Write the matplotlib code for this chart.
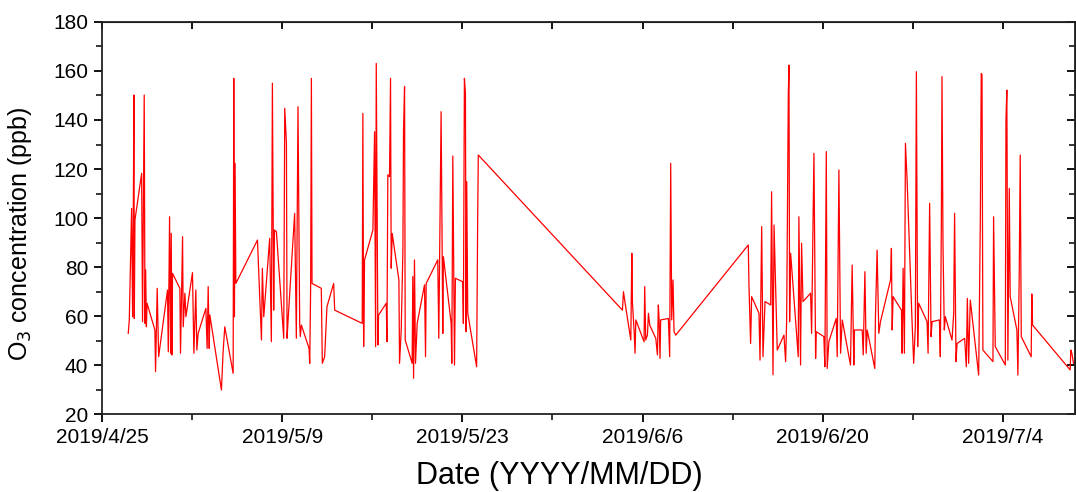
import numpy as np
import pandas as pd
import matplotlib
matplotlib.use('Agg')
import matplotlib.pyplot as plt
import matplotlib.dates as mdates
from matplotlib.ticker import MultipleLocator, FuncFormatter

plt.rcParams['font.family'] = ['Liberation Sans', 'DejaVu Sans']

# days since 2019-04-25 00:00 and O3 (ppb)
days = [
    2.04, 2.12, 2.30, 2.38, 2.43, 2.48, 2.51, 2.56, 3.08, 3.15, 3.28, 3.34, 3.39, 3.45, 3.50,
    4.11, 4.16, 4.29, 4.40, 5.09, 5.15, 5.25, 5.33, 5.38, 5.43, 5.48, 6.05, 6.10, 6.26, 6.31,
    6.44, 6.52, 7.03, 7.14, 7.29, 7.37, 7.47, 8.07, 8.17, 8.25, 8.33, 8.38, 9.28, 9.41, 9.54,
    10.19, 10.24, 10.29, 10.34, 10.40, 12.08, 12.39, 12.46, 12.57, 13.03, 13.16, 13.24, 13.34,
    13.40, 13.55,
    14.12, 14.20, 14.33, 14.38, 14.46, 14.97, 15.10, 15.23, 15.36, 15.41, 15.49, 16.09, 16.14,
    16.21, 16.27, 16.32, 17.04, 17.12, 17.30, 17.48, 18.00, 18.08, 20.22, 20.27, 20.33, 20.40,
    21.05, 21.18, 21.26, 21.31, 21.44, 21.49, 22.09, 22.14, 22.21, 22.34, 22.42, 22.47, 22.55,
    23.07, 23.12, 23.25, 23.38, 23.43, 23.51, 23.56, 24.10, 24.15, 24.21, 24.28, 24.36, 24.49,
    25.06, 25.14, 25.19, 26.09, 26.17, 26.35, 26.48, 26.53, 27.13, 27.18, 27.26, 27.39, 27.46,
    28.03, 28.08, 28.16, 28.24, 28.29, 28.34, 28.42, 29.11, 29.19, 29.24,
    40.44, 40.52, 40.65, 41.09, 41.17, 41.22, 41.35, 41.42, 41.48, 42.12, 42.17, 42.25, 42.38,
    42.46, 42.56, 43.03, 43.16, 43.23, 43.29, 43.36, 43.41, 44.01, 44.11, 44.19, 44.27, 44.37,
    44.45, 44.58,
    50.22, 50.27, 50.40, 50.48, 51.05, 51.13, 51.26, 51.36, 51.52, 51.96, 52.03, 52.14, 52.22,
    52.34, 52.47, 52.99, 53.12, 53.20, 53.33, 53.38, 53.43, 53.51, 54.10, 54.15, 54.28, 54.36,
    54.47, 55.06, 55.14, 55.32, 55.45, 55.50, 56.09, 56.17, 56.28, 56.35, 56.48, 57.05, 57.13,
    57.26, 57.39, 57.52, 58.16, 58.29, 58.42, 58.47, 59.07, 59.15, 59.28, 59.38, 59.46, 60.05,
    60.10, 60.23, 60.36, 60.49, 61.27, 61.34, 61.40, 61.47, 62.12, 62.17, 62.25, 62.35, 62.43,
    62.56, 62.94, 63.07, 63.20, 63.28, 63.38, 63.46, 64.11, 64.19, 64.31, 64.42, 64.50, 65.07,
    65.14, 65.22, 65.27, 65.35, 65.45, 65.53, 66.05, 66.18, 66.25, 66.36, 66.44, 67.03, 67.16,
    67.24, 67.34, 67.47, 68.12, 68.25, 68.32, 68.38, 68.45, 69.23, 69.28, 69.41, 70.19, 70.24,
    70.31, 70.39, 70.50, 70.57, 71.09, 71.17, 71.27, 71.35, 71.43, 72.20, 72.25, 72.31, 75.23,
    75.28, 75.36, 75.49,
]
o3 = [
    52.9, 58.4, 103.9, 59.7, 99.2, 150.2, 59.0, 99.2, 118.2, 57.7, 150.2, 57.0, 78.8, 55.6, 65.2,
    54.3, 37.3, 71.3, 43.4, 70.6, 45.4, 100.5, 44.8, 93.7, 44.1, 77.4, 71.3, 44.8, 92.4, 55.6,
    69.3, 59.7, 77.7, 44.8, 70.6, 46.1, 52.9, 63.1, 46.8, 72.0, 46.8, 60.4, 29.8, 45.4, 55.6,
    36.6, 157.0, 59.7, 122.3, 73.3, 91.0, 50.2, 79.5, 59.7, 91.7, 49.5, 155.0, 62.4,
    95.1, 94.4,
    50.9, 144.8, 130.5, 50.9, 58.4, 101.9, 50.9, 145.4, 57.0, 51.6, 56.3, 46.8, 40.7,
    70.6, 157.0, 73.3, 71.3, 40.7, 43.4, 63.8, 73.3, 62.4, 57.0, 142.7, 47.5, 82.9,
    95.1, 135.2, 47.5, 163.1, 48.2, 60.4, 65.2, 49.5, 117.6, 116.9, 157.0, 79.5, 93.7,
    74.7, 40.7, 54.3, 86.3, 135.9, 153.6, 50.2, 40.7, 76.1, 34.6, 82.9, 40.7, 57.0,
    72.7, 43.4, 73.3, 82.9, 50.9, 143.4, 52.9, 84.2, 57.0, 40.7, 125.3, 40.0, 75.4,
    74.0, 57.0, 157.0, 150.9, 53.6, 114.8, 61.1, 39.3, 99.2, 125.7,
    62.4, 69.9, 65.2, 50.2, 85.6, 65.2, 53.6, 44.8, 58.4, 49.5, 72.0, 50.2, 52.2,
    61.1, 56.3, 50.9, 44.1, 64.5, 58.4, 42.7, 58.4, 59.0, 43.4, 122.3, 58.4, 74.7,
    53.6, 52.2,
    89.0, 72.7, 48.8, 67.9, 61.1, 42.0, 96.5, 43.4, 65.9, 64.5, 110.7, 36.0, 97.1,
    73.3, 46.1, 52.2, 41.4, 58.4, 150.9, 162.4, 57.7, 85.6, 43.4, 100.5, 40.0, 89.7,
    65.9, 69.3, 52.9, 126.4, 42.7, 53.6, 51.6, 39.3, 127.1, 38.6, 49.5, 59.0, 43.4,
    119.6, 44.8, 58.4, 40.0, 80.8, 40.0, 54.3, 54.3, 44.1, 78.1, 44.8, 54.3, 38.6,
    59.7, 86.9, 52.9, 57.7, 74.7, 87.6, 54.3, 67.9, 62.4, 44.8, 79.5, 44.8, 130.5,
    115.5, 58.4, 40.7, 55.6, 159.7, 47.5, 65.2, 57.7, 44.8, 106.0, 51.6, 57.7, 58.4,
    43.4, 97.1, 157.7, 88.3, 54.3, 59.7, 50.2, 61.1, 101.9, 41.4, 48.8, 50.9, 39.3,
    67.2, 40.7, 66.5, 35.9, 99.2, 159.0, 158.4, 46.1, 41.4, 100.5, 47.5, 40.0, 140.0,
    152.2, 42.0, 112.1, 67.9, 54.3, 35.9, 76.1, 125.7, 51.6, 43.4, 69.0, 56.3, 38.0,
    46.1, 44.8, 40.7,
]

start = pd.Timestamp('2019-04-25')
end = start + pd.Timedelta(days=75.6)
t = start + pd.to_timedelta(days, unit='D')

major_dates = pd.date_range(start, periods=6, freq='14D')
minor_dates = pd.date_range(start + pd.Timedelta(days=7), periods=5, freq='14D')

fig = plt.figure(figsize=(10.76, 4.92), dpi=100)
ax = fig.add_axes([0.0948, 0.1585, 0.9042, 0.7968])
ax.plot(t, o3, color='#ff0000', linewidth=0.9)

ax.set_xticks(major_dates)
ax.set_xticks(minor_dates, minor=True)
ax.set_xlim(start, end)
ax.set_ylim(20, 180)
ax.yaxis.set_major_locator(MultipleLocator(20))
ax.yaxis.set_minor_locator(MultipleLocator(10))
ax.xaxis.set_major_formatter(FuncFormatter(
    lambda v, p: (lambda d: f"{d.year}/{d.month}/{d.day}")(mdates.num2date(v))))

for s in ax.spines.values():
    s.set_linewidth(1.3)
    s.set_color('#222222')

ax.tick_params(which='major', direction='out', length=6, width=1.3, labelsize=15, pad=4)
ax.tick_params(which='minor', direction='out', length=4, width=1.1)

# mirrored inward ticks on top and right
top = ax.secondary_xaxis('top')
top.set_xticks(major_dates)
top.set_xticks(minor_dates, minor=True)
top.tick_params(which='both', direction='in', length=5, width=1.3, labeltop=False)
right = ax.secondary_yaxis('right')
right.set_yticks(np.arange(20, 181, 20))
right.set_yticks(np.arange(30, 180, 20), minor=True)
right.tick_params(which='major', direction='in', length=6, width=1.3, labelright=False)
right.tick_params(which='minor', direction='in', length=4, width=1.1)
ax.set_xlim(start, end)

ax.set_xlabel('Date (YYYY/MM/DD)', fontsize=22)
ax.set_ylabel('O$_3$ concentration (ppb)', fontsize=18)
ax.xaxis.set_label_coords(0.47, -0.12)
ax.yaxis.set_label_coords(-0.07, 0.46)

fig.savefig('out.png', dpi=100)
